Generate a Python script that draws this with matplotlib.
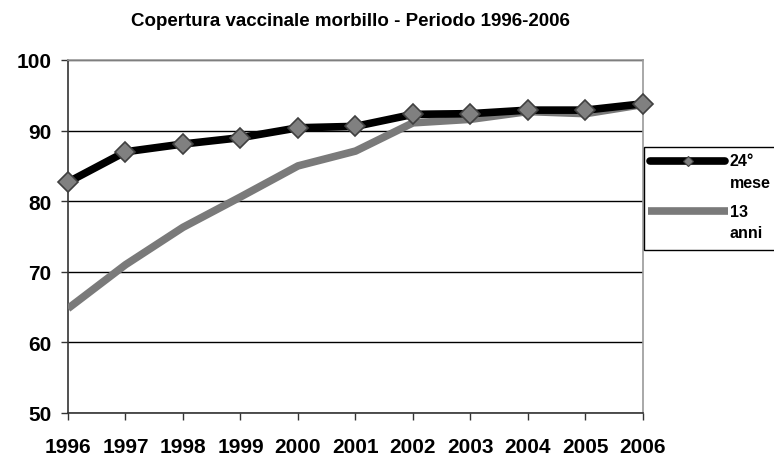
import matplotlib
matplotlib.use("Agg")
import matplotlib.pyplot as plt
from matplotlib.lines import Line2D
from matplotlib.patches import Rectangle

years = [1996, 1997, 1998, 1999, 2000, 2001, 2002, 2003, 2004, 2005, 2006]
mese24 = [82.7, 87.0, 88.1, 89.0, 90.4, 90.6, 92.3, 92.4, 92.9, 92.9, 93.8]
anni13 = [64.8, 71.0, 76.3, 80.6, 85.0, 87.1, 91.1, 91.6, 92.7, 92.4, 93.7]
labels = ["24°", "mese", "13", "anni"]
title = "Copertura vaccinale morbillo - Periodo 1996-2006"

plt.rcParams['font.family'] = ['Liberation Sans', 'DejaVu Sans']

W, H = 774, 460
fig = plt.figure(figsize=(W/100, H/100), dpi=100)
ax = fig.add_axes([68/W, 1-414/H, (643-68)/W, (414-61)/H])

GRAY = '#7a7a7a'
ax.plot(years, anni13, color=GRAY, lw=5.5, solid_capstyle='butt', zorder=3)
ax.plot(years, mese24, color='black', lw=5.5, marker='D', markersize=10,
        markerfacecolor='#808080', markeredgecolor='#404040', markeredgewidth=1.2,
        zorder=4, clip_on=False)

ax.set_xlim(1996, 2006)
ax.set_ylim(50, 100)
ax.set_yticks([50, 60, 70, 80, 90, 100])
ax.set_xticks(years)
ax.yaxis.grid(True, color='black', lw=1)
ax.set_axisbelow(True)
for s in ['top', 'right']:
    ax.spines[s].set_color('#999999')
    ax.spines[s].set_linewidth(1.2)
for s in ['left', 'bottom']:
    ax.spines[s].set_color('#333333')
    ax.spines[s].set_linewidth(1.2)
ax.tick_params(direction='out', length=5, width=1, color='#333333', labelsize=15)
ax.yaxis.set_tick_params(pad=7)
ax.xaxis.set_tick_params(pad=12)
for t in ax.get_xticklabels() + ax.get_yticklabels():
    t.set_fontweight('bold')

fig.text(350/W, 1-21/H, title, ha='center', va='center', fontsize=13.5, fontweight='bold')

# legend (manual, box clipped by figure edge as in the reference)
fig.patches.append(Rectangle((644/W, 1-251/H), 140/W, 103/H, transform=fig.transFigure,
                             facecolor='white', edgecolor='black', lw=1, zorder=5))
fig.lines.append(Line2D([650/W, 725/W], [1-162/H]*2, transform=fig.transFigure,
                        color='black', lw=5.5, solid_capstyle='round', zorder=6))
fig.lines.append(Line2D([688/W], [1-162/H], transform=fig.transFigure, marker='D',
                        markersize=5, markerfacecolor='#808080', markeredgecolor='#404040',
                        markeredgewidth=0.8, zorder=7))
fig.lines.append(Line2D([648/W, 728/W], [1-212/H]*2, transform=fig.transFigure,
                        color=GRAY, lw=5.5, solid_capstyle='butt', zorder=6))
for txt, yy in zip(labels, [162, 184, 213, 234]):
    fig.text(730/W, 1-yy/H, txt, ha='left', va='center', fontsize=11.5, fontweight='bold', zorder=8)

fig.savefig("out.png", dpi=100)
